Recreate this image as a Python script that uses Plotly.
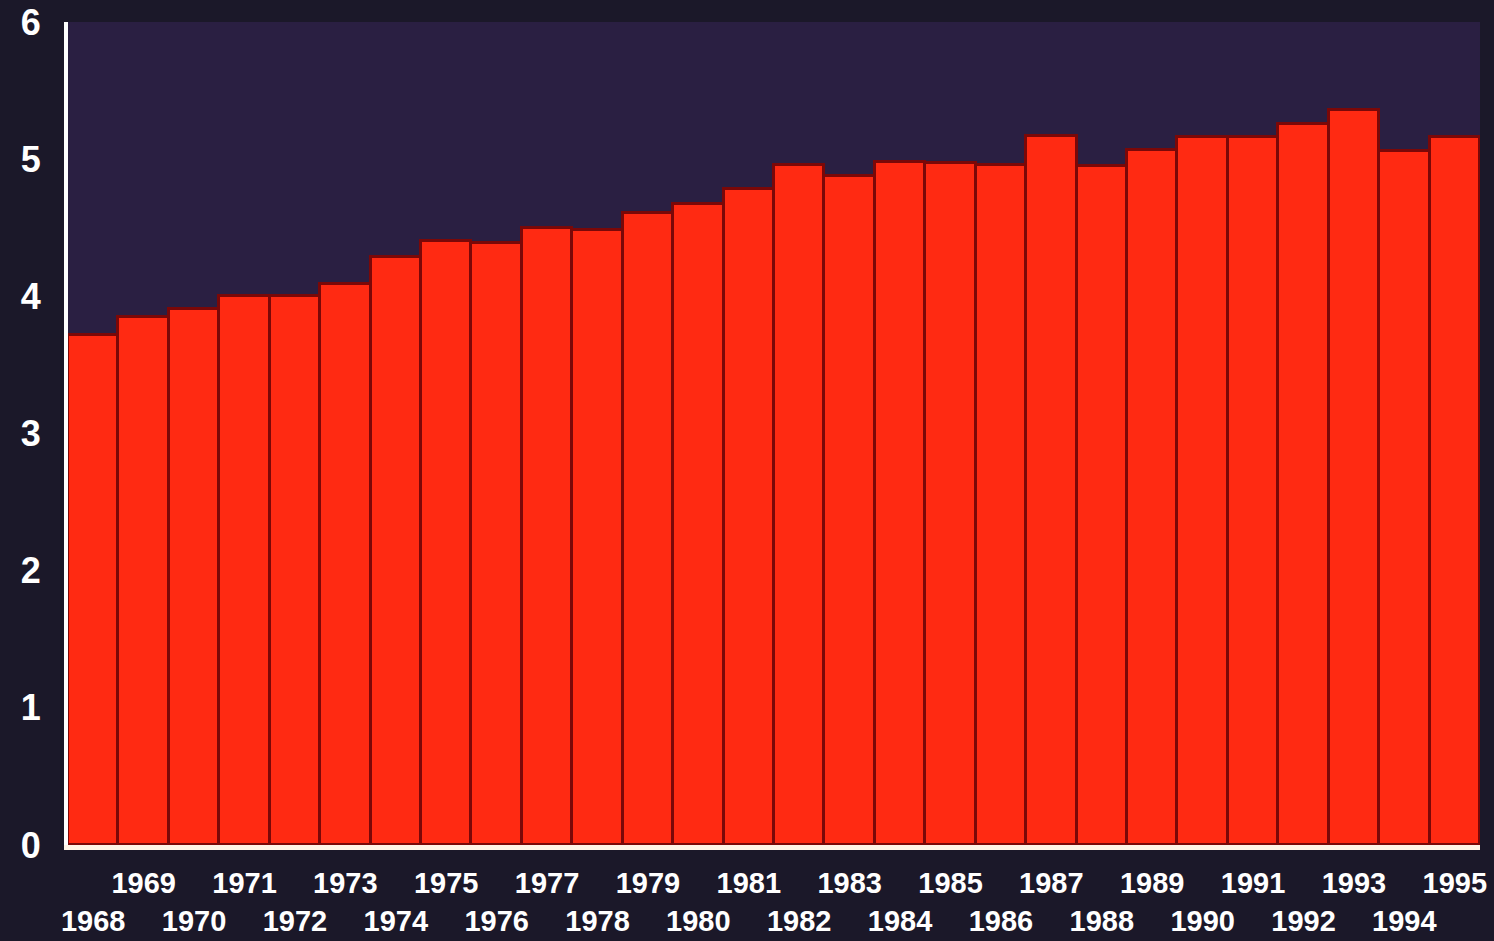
import plotly.graph_objects as go

years = [str(y) for y in range(1968, 1996)]
values = [3.72, 3.85, 3.91, 4.00, 4.00, 4.09, 4.29, 4.40, 4.39, 4.50, 4.48, 4.61, 4.67, 4.78,
          4.96, 4.88, 4.98, 4.97, 4.96, 5.17, 4.95, 5.07, 5.16, 5.16, 5.26, 5.36, 5.06, 5.16]
y_ticks = [0, 1, 2, 3, 4, 5, 6]
# alternate labels on two rows: odd years on top row, even years on bottom row
tick_text = [y if int(y) % 2 == 1 else "<br>" + y for y in years]

fig = go.Figure(go.Bar(
    x=years, y=values,
    marker=dict(color="#ff2a12", line=dict(color="#7a0808", width=3)),
))

fig.update_layout(
    width=1494, height=941,
    margin=dict(l=68, r=14, t=22, b=96, autoexpand=False),
    paper_bgcolor="#1b1829",
    plot_bgcolor="#2a1f42",
    bargap=0,
    showlegend=False,
    font=dict(family="Liberation Sans, Arial, sans-serif", color="white"),
)
fig.update_xaxes(
    type="category", range=[-0.5, len(years) - 0.5],
    tickvals=years, ticktext=tick_text, tickangle=0,
    tickfont=dict(size=29, family="Liberation Sans, Arial, sans-serif", weight="bold"),
    showgrid=False, zeroline=False, ticks="", automargin=False, ticklabelstandoff=8,
    showline=True, linecolor="#fff4e6", linewidth=5,
)
fig.update_yaxes(
    range=[0, 6], tickvals=y_ticks,
    tickfont=dict(size=36, family="Liberation Sans, Arial, sans-serif", weight="bold"),
    showgrid=False, zeroline=False, ticks="", ticklabelstandoff=16, automargin=False,
    showline=True, linecolor="white", linewidth=4,
)

fig.write_html("out.html")
